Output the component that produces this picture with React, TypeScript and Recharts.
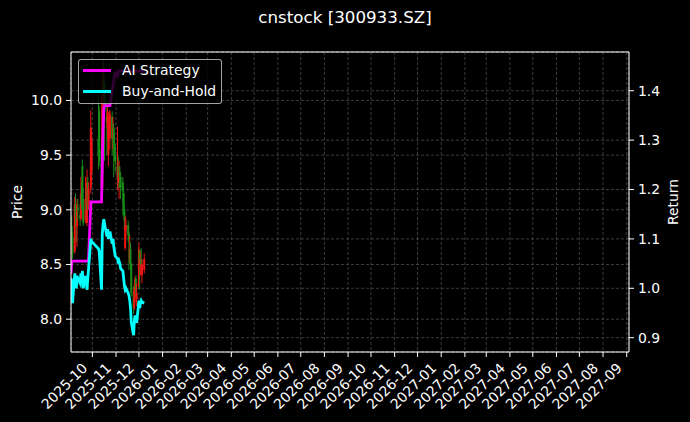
import React from 'react';
import { ComposedChart, Bar, Line, XAxis, YAxis, CartesianGrid, ReferenceLine } from 'recharts';

// trading days shown (SSE/SZSE calendar, Golden Week closed)
const dates = [
  '2025-09-03', '2025-09-04', '2025-09-05', '2025-09-08', '2025-09-09', '2025-09-10', '2025-09-11', '2025-09-12',
  '2025-09-15', '2025-09-16', '2025-09-17', '2025-09-18', '2025-09-19', '2025-09-22', '2025-09-23', '2025-09-24',
  '2025-09-25', '2025-09-26', '2025-09-29', '2025-09-30', '2025-10-09', '2025-10-10', '2025-10-13', '2025-10-14',
  '2025-10-15', '2025-10-16', '2025-10-17', '2025-10-20', '2025-10-21', '2025-10-22', '2025-10-23', '2025-10-24',
  '2025-10-27', '2025-10-28', '2025-10-29', '2025-10-30', '2025-10-31', '2025-11-03', '2025-11-04', '2025-11-05',
  '2025-11-06', '2025-11-07', '2025-11-10', '2025-11-11', '2025-11-12', '2025-11-13', '2025-11-14', '2025-11-17',
  '2025-11-18', '2025-11-19', '2025-11-20', '2025-11-21', '2025-11-24', '2025-11-25', '2025-11-26', '2025-11-27',
  '2025-11-28', '2025-12-01', '2025-12-02', '2025-12-03', '2025-12-04', '2025-12-05', '2025-12-08',
];

const opens = [
  8.60, 8.85, 8.75, 8.62, 9.05, 8.92, 8.85, 9.02, 8.95, 8.92, 9.15, 9.40, 9.10, 8.90, 9.05, 8.88,
  9.25, 9.05, 9.20, 9.35, 9.65, 9.90, 9.55, 9.20, 10.05, 10.20, 10.15, 9.85, 9.75, 9.50, 9.75, 9.65,
  9.85, 9.65, 9.75, 9.60, 9.50, 9.30, 9.40, 9.25, 9.35, 9.30, 9.25, 9.15, 9.00, 8.65, 8.82, 8.86,
  8.78, 8.55, 8.64, 8.51, 8.25, 8.10, 8.25, 8.37, 8.18, 8.30, 8.63, 8.45, 8.55, 8.40, 8.45,
];
const highs = [
  8.92, 8.95, 8.80, 9.12, 9.15, 9.00, 9.10, 9.10, 9.05, 9.30, 9.25, 9.46, 9.20, 9.30, 9.20, 9.37,
  9.30, 9.25, 9.91, 9.72, 10.05, 9.95, 9.65, 10.15, 10.35, 10.38, 10.20, 9.95, 9.95, 9.85, 9.90, 9.91,
  9.90, 9.85, 9.79, 9.70, 9.60, 9.76, 9.49, 9.45, 9.40, 9.34, 9.30, 9.20, 9.05, 8.94, 8.92, 8.90,
  8.79, 8.76, 8.70, 8.51, 8.30, 8.33, 8.39, 8.40, 8.33, 8.70, 8.63, 8.62, 8.65, 8.55, 8.60,
];
const lows = [
  8.55, 8.70, 8.55, 8.60, 8.88, 8.70, 8.66, 8.90, 8.85, 8.90, 9.00, 9.03, 8.85, 8.88, 8.90, 8.85,
  9.00, 9.00, 9.15, 9.24, 9.37, 9.40, 9.10, 9.15, 9.90, 10.00, 9.45, 9.50, 9.65, 9.40, 9.70, 9.55,
  9.50, 9.55, 9.30, 9.45, 9.35, 9.18, 9.20, 9.10, 9.20, 9.10, 8.95, 8.95, 8.82, 8.63, 8.75, 8.70,
  8.45, 8.51, 8.45, 8.21, 8.05, 8.08, 8.15, 8.20, 8.12, 8.28, 8.27, 8.40, 8.45, 8.33, 8.42,
];
const closes = [
  8.85, 8.80, 8.60, 9.05, 8.95, 8.85, 9.05, 9.00, 8.92, 9.15, 9.05, 9.15, 8.88, 9.10, 9.00, 9.25,
  9.05, 9.20, 9.75, 9.65, 9.50, 9.45, 9.20, 10.05, 10.20, 10.10, 9.90, 9.80, 9.90, 9.75, 9.85, 9.88,
  9.65, 9.75, 9.60, 9.52, 9.44, 9.40, 9.30, 9.35, 9.30, 9.20, 9.17, 9.04, 8.90, 8.85, 8.86, 8.77,
  8.73, 8.64, 8.51, 8.24, 8.10, 8.28, 8.37, 8.28, 8.24, 8.64, 8.51, 8.55, 8.50, 8.50, 8.55,
];

const strategy = [
  1.03, 1.055, 1.055, 1.055, 1.055, 1.055, 1.055, 1.055, 1.055, 1.055, 1.055, 1.055, 1.055, 1.055, 1.055, 1.055,
  1.055, 1.06, 1.175, 1.175, 1.175, 1.175, 1.175, 1.25, 1.32, 1.365, 1.37, 1.37, 1.37, 1.37, 1.37, 1.37,
  1.40, 1.41, 1.42, 1.43, 1.435, 1.43, 1.44, 1.44, 1.44, 1.44, 1.44, 1.44, 1.44, 1.44, 1.44, 1.44,
  1.44, 1.44, 1.44, 1.44, 1.44, 1.44, 1.44, 1.44, 1.44, 1.44, 1.44, 1.44, 1.44, 1.44, 1.44,
];
const buyHold = [
  1.02, 1.015, 0.97, 1.03, 1.01, 1.00, 1.025, 1.02, 1.01, 1.03, 1.02, 1.035, 1.00, 1.025, 1.015, 0.997,
  1.02, 1.04, 1.10, 1.095, 1.08, 1.075, 0.997, 1.11, 1.13, 1.14, 1.13, 1.105, 1.12, 1.10, 1.11, 1.115,
  1.09, 1.10, 1.085, 1.075, 1.065, 1.06, 1.05, 1.055, 1.05, 1.04, 1.035, 1.02, 1.005, 0.997, 1.00, 0.99,
  0.985, 0.975, 0.96, 0.93, 0.905, 0.935, 0.945, 0.935, 0.93, 0.975, 0.96, 0.97, 0.975, 0.972, 0.97,
];

const monthTicks = [
  '2025-10', '2025-11', '2025-12', '2026-01', '2026-02', '2026-03', '2026-04', '2026-05', '2026-06', '2026-07',
  '2026-08', '2026-09', '2026-10', '2026-11', '2026-12', '2027-01', '2027-02', '2027-03', '2027-04', '2027-05',
  '2027-06', '2027-07', '2027-08', '2027-09',
];
const priceTicks = [8.0, 8.5, 9.0, 9.5, 10.0];
const returnTicks = [0.9, 1.0, 1.1, 1.2, 1.3, 1.4];

const xStart = '2025-09-03';
const xEnd = '2027-09-04';
const priceRange = [7.70, 10.443];
const returnRange = [0.871, 1.4785];

const FONT = '"DejaVu Sans", sans-serif';
const UP = '#f01414';
const DOWN = '#1a8c1a';
const LINE_W = 2.8;

const toTime = (d: string) => Date.parse(d + 'T00:00:00Z');

const data = dates.map((d, i) => ({
  t: toTime(d),
  open: opens[i],
  high: highs[i],
  low: lows[i],
  close: closes[i],
  strategy: strategy[i],
  hold: buyHold[i],
}));

function Candle(props: any) {
  const { x, y, width, height, payload } = props;
  if (!payload || x == null || y == null) return null;
  const top = Math.min(y, y + height);
  const bottom = Math.max(y, y + height);
  const span = payload.high - payload.low;
  const toY = (v: number) => (span > 0 ? bottom - ((v - payload.low) / span) * (bottom - top) : top);
  const cx = x + width / 2;
  const color = payload.close >= payload.open ? UP : DOWN;
  const b0 = toY(Math.max(payload.open, payload.close));
  const b1 = toY(Math.min(payload.open, payload.close));
  return (
    <g>
      <line x1={cx} x2={cx} y1={top} y2={bottom} stroke={color} strokeWidth={1} />
      <rect x={cx - 1} y={b0} width={2} height={Math.max(1, b1 - b0)} fill={color} />
    </g>
  );
}

function DateTick({ x, y, payload }: any) {
  const d = new Date(payload.value);
  const label = `${d.getUTCFullYear()}-${String(d.getUTCMonth() + 1).padStart(2, '0')}`;
  return (
    <g transform={`translate(${x - 4},${y + 10})`}>
      <text transform="rotate(-45)" textAnchor="end" fill="#fff" fontSize={13.9} fontFamily={FONT}>
        {label}
      </text>
    </g>
  );
}

const axisTitle = (text: string, dx: number) => ({ viewBox }: any) => {
  const cx = viewBox.x + dx;
  const cy = viewBox.y + viewBox.height / 2;
  return (
    <text
      x={cx}
      y={cy}
      transform={`rotate(-90 ${cx} ${cy})`}
      textAnchor="middle"
      dominantBaseline="central"
      fill="#fff"
      fontSize={13.9}
      fontFamily={FONT}
    >
      {text}
    </text>
  );
};

const tickStyle = { fill: '#fff', fontSize: 13.9, fontFamily: FONT };

export default function App() {
  return (
    <div style={{ position: 'absolute', left: 0, top: 0, width: 690, height: 422, background: '#000', fontFamily: FONT }}>
      <div
        style={{
          position: 'absolute', left: 0, top: 6.5, width: 690, textAlign: 'center',
          color: '#fff', fontSize: 16.7, lineHeight: 'normal',
        }}
      >
        cnstock [300933.SZ]
      </div>
      <ComposedChart width={690} height={422} data={data} margin={{ top: 52, right: 0, bottom: 0, left: 0 }}>
        <CartesianGrid yAxisId="left" stroke="#4a4a4a" strokeWidth={0.8} strokeDasharray="3 2" />
        <CartesianGrid yAxisId="right" vertical={false} stroke="#4a4a4a" strokeWidth={0.8} strokeDasharray="3 2" />
        <XAxis
          dataKey="t"
          type="number"
          domain={[toTime(xStart), toTime(xEnd)]}
          allowDataOverflow
          ticks={monthTicks.map((m) => toTime(m + '-01'))}
          interval={0}
          tick={<DateTick />}
          tickSize={5}
          height={70}
          stroke="#fff"
        />
        <YAxis
          yAxisId="left"
          domain={priceRange}
          allowDataOverflow
          ticks={priceTicks}
          tickFormatter={(v: number) => v.toFixed(1)}
          tick={tickStyle}
          tickSize={5}
          tickMargin={4}
          width={71}
          stroke="#fff"
          label={axisTitle('Price', 17)}
        />
        <YAxis
          yAxisId="right"
          orientation="right"
          domain={returnRange}
          allowDataOverflow
          ticks={returnTicks}
          tickFormatter={(v: number) => v.toFixed(1)}
          tick={tickStyle}
          tickSize={5}
          tickMargin={4}
          width={61}
          stroke="#fff"
          label={axisTitle('Return', 44)}
        />
        <ReferenceLine yAxisId="left" y={priceRange[1]} stroke="#fff" />
        <Bar
          yAxisId="left"
          dataKey={(d: any) => [d.low, d.high]}
          barSize={3}
          shape={(p: any) => <Candle {...p} />}
          isAnimationActive={false}
        />
        <Line yAxisId="right" dataKey="strategy" stroke="#ff00ff" strokeWidth={LINE_W} dot={false} type="linear" isAnimationActive={false} />
        <Line yAxisId="right" dataKey="hold" stroke="#00ffff" strokeWidth={LINE_W} dot={false} type="linear" isAnimationActive={false} />
      </ComposedChart>
      <div
        style={{
          position: 'absolute', left: 77.6, top: 59.2, width: 144.5, height: 44.8, boxSizing: 'border-box',
          background: 'rgba(0,0,0,0.8)', border: '1px solid rgba(204,204,204,0.8)', borderRadius: 3,
          color: '#fff', fontSize: 13.9,
        }}
      >
        {[
          { name: 'AI Strategy', color: '#ff00ff', cy: 11.5 },
          { name: 'Buy-and-Hold', color: '#00ffff', cy: 32.5 },
        ].map((s) => (
          <div key={s.name}>
            <div style={{ position: 'absolute', left: 4.6, top: s.cy - 2.4, width: 27.8, height: LINE_W, background: s.color }} />
            <div style={{ position: 'absolute', left: 43.5, top: s.cy - 9.5, lineHeight: '17px', whiteSpace: 'nowrap' }}>{s.name}</div>
          </div>
        ))}
      </div>
    </div>
  );
}
